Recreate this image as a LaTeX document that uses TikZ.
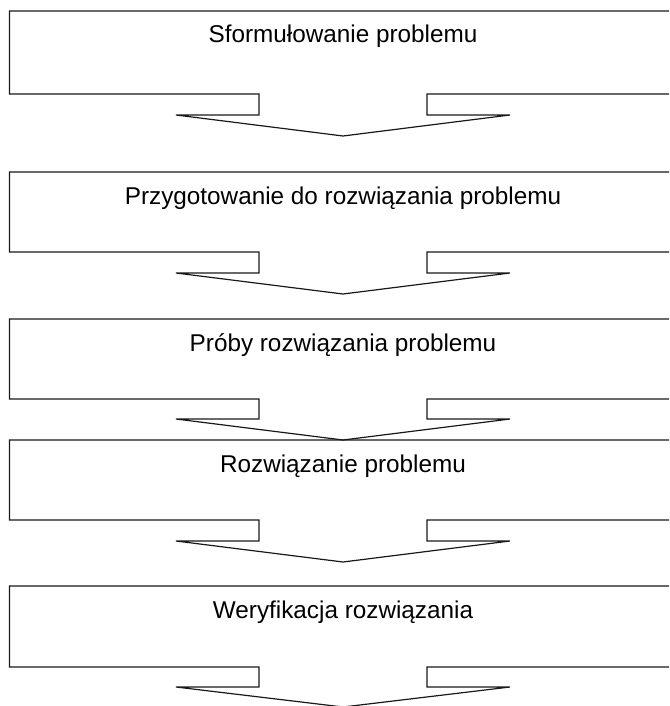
\documentclass[tikz,border=0pt]{standalone}
\usepackage{fontspec}
\setmainfont{Liberation Sans}
\tikzset{
  blok/.style={line width=1.2pt, draw=black!90, line join=miter},
  opis/.style={anchor=base, inner sep=0pt, font=\fontsize{24.3}{29}\selectfont},
}
\begin{document}
\begin{tikzpicture}[x=1pt,y=-1pt]
\useasboundingbox (0,0) rectangle (669,706);
\clip (0,0) rectangle (669,706);

% Drawing block 1 with its arrow
\draw [blok] (259,94) -- (9.5,94) -- (9.5,11) -- (680,11) -- (680,94) -- (427,94) -- (427,115) -- (510,115) -- (343,136) -- (176,115) -- (259,115) -- cycle;
\node [opis] (krok1) at (343,42.5) {Sformułowanie problemu};

% Drawing block 2 with its arrow
\draw [blok] (259,252) -- (9.5,252) -- (9.5,172) -- (680,172) -- (680,252) -- (427,252) -- (427,273) -- (510,273) -- (343,294) -- (176,273) -- (259,273) -- cycle;
\node [opis] (krok2) at (343,204) {Przygotowanie do rozwiązania problemu};

% Drawing block 3 with its arrow
\draw [blok] (259,399) -- (9.5,399) -- (9.5,319) -- (680,319) -- (680,399) -- (427,399) -- (427,419) -- (510,419) -- (343,440) -- (176,419) -- (259,419) -- cycle;
\node [opis] (krok3) at (343,351) {Próby rozwiązania problemu};

% Drawing block 4 with its arrow
\draw [blok] (259,520) -- (9.5,520) -- (9.5,440) -- (680,440) -- (680,520) -- (427,520) -- (427,541) -- (510,541) -- (343,562) -- (176,541) -- (259,541) -- cycle;
\node [opis] (krok4) at (343,472) {Rozwiązanie problemu};

% Drawing block 5 with its arrow
\draw [blok] (259,667) -- (9.5,667) -- (9.5,586) -- (680,586) -- (680,667) -- (427,667) -- (427,687) -- (510,687) -- (343,707) -- (176,687) -- (259,687) -- cycle;
\node [opis] (krok5) at (343,618) {Weryfikacja rozwiązania};
\end{tikzpicture}
\end{document}
